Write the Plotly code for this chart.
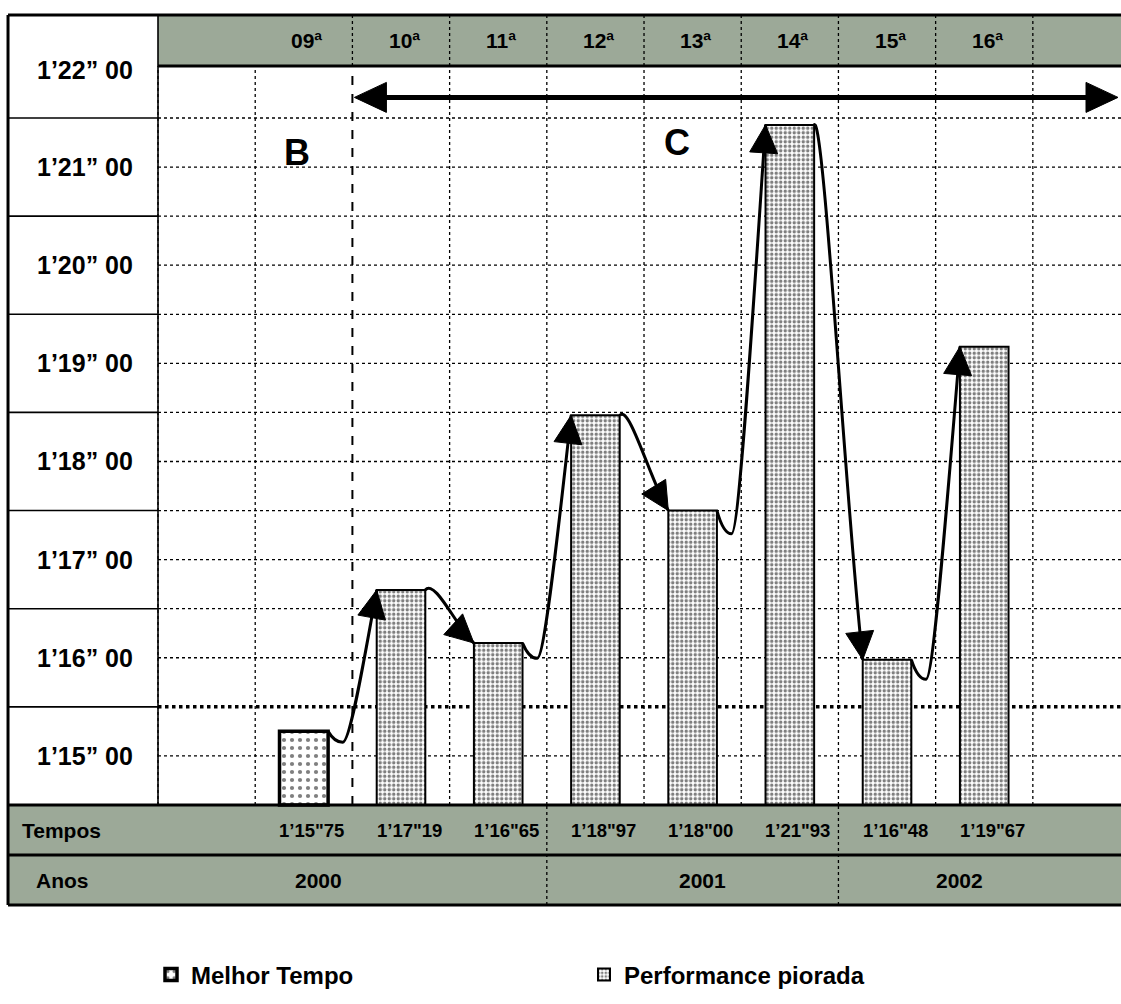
import math
import plotly.graph_objects as go

# ---------------- data ----------------
ROUNDS = ["09ª", "10ª", "11ª", "12ª", "13ª", "14ª", "15ª", "16ª"]
TEMPOS_LABELS = ['1’15"75', '1’17"19', '1’16"65', '1’18"97',
                 '1’18"00', '1’21"93', '1’16"48', '1’19"67']
TEMPOS_SEC = [75.75, 77.19, 76.65, 78.97, 78.00, 81.93, 76.48, 79.67]
YEARS = ["2000", "2001", "2002"]
YEAR_SPLITS = [2.5, 5.5]            # column boundaries between years
Y_SECONDS = [75, 76, 77, 78, 79, 80, 81, 82]
Y_LABELS = ["1’15” 00", "1’16” 00", "1’17” 00", "1’18” 00",
            "1’19” 00", "1’20” 00", "1’21” 00", "1’22” 00"]
REF_LEVEL = 76.0
LEGEND_NAMES = ["Melhor Tempo", "Performance piorada"]
PHASE_LETTERS = ["B", "C"]

# ---------------- layout geometry (data units) ----------------
W, H = 1121, 1004
X_RANGE = [-3.1255, 8.407]
Y_RANGE = [72.972, 83.2025]
X_FRAME = -3.043
X_COLEDGE = -1.5
X_END = 8.8
Y_TOP = 83.05
Y_HEAD = 82.53
Y_BASE = 75.0
Y_ROW1 = 74.49
Y_ROW2 = 73.98
HALF = 0.25
GREY = "#9ca998"
FONT = "Liberation Sans, Arial, sans-serif"
YEAR_LABEL_X = [0.15, 4.1, 6.75]
PHASE_POS = [(-0.07, 81.65), (3.84, 81.75)]
ARROW_Y = 82.21

XS = W / (X_RANGE[1] - X_RANGE[0])
YS = H / (Y_RANGE[1] - Y_RANGE[0])

shapes = []
annotations = []


def seg(x0, y0, x1, y1, width=1.0, dash="solid", layer="below", color="black"):
    shapes.append(dict(type="line", xref="x", yref="y", x0=x0, y0=y0, x1=x1, y1=y1,
                       line=dict(color=color, width=width, dash=dash), layer=layer))


def rect(x0, y0, x1, y1, fill, layer="below"):
    shapes.append(dict(type="rect", xref="x", yref="y", x0=x0, y0=y0, x1=x1, y1=y1,
                       fillcolor=fill, line=dict(width=0), layer=layer))


def text(x, y, s, size, xanchor="center", xshift=0, yshift=0):
    annotations.append(dict(x=x, y=y, xref="x", yref="y", text=s, showarrow=False,
                            xanchor=xanchor, yanchor="middle", xshift=xshift, yshift=yshift,
                            font=dict(family=FONT, size=size, color="black", weight="bold")))


def head(tip, frm, L=28, Wd=14):
    """filled triangle arrowhead at tip, pointing away from frm (sizes in px)"""
    dx = (tip[0] - frm[0]) * XS
    dy = (tip[1] - frm[1]) * YS
    n = math.hypot(dx, dy)
    ux, uy = dx / n, dy / n
    bx, by = -ux * L, -uy * L
    px, py = -uy * Wd, ux * Wd
    p1 = (tip[0] + (bx + px) / XS, tip[1] + (by + py) / YS)
    p2 = (tip[0] + (bx - px) / XS, tip[1] + (by - py) / YS)
    shapes.append(dict(type="path", xref="x", yref="y",
                       path=f"M{tip[0]},{tip[1]} L{p1[0]},{p1[1]} L{p2[0]},{p2[1]} Z",
                       fillcolor="black", line=dict(color="black", width=1), layer="above"))


n = len(ROUNDS)
cols = list(range(n))

# grey bands
rect(X_COLEDGE, Y_HEAD, X_END, Y_TOP, GREY)
rect(X_FRAME, Y_ROW1, X_END, Y_BASE, GREY)
rect(X_FRAME, Y_ROW2, X_END, Y_ROW1, GREY)

# horizontal dotted grid (half seconds)
lo, hi = Y_SECONDS[0], Y_SECONDS[-1]
k = 1
while lo + 0.5 * k <= hi:
    yv = lo + 0.5 * k
    if yv == REF_LEVEL:
        seg(X_COLEDGE, yv, X_END, yv, width=3.5, dash="dot")
    else:
        seg(X_COLEDGE, yv, X_END, yv, width=1.3, dash="dot")
    k += 1

# vertical grid lines
for c in range(-1, n + 2):
    xv = c - 0.5
    if xv == 0.5:
        seg(xv, Y_BASE, xv, Y_HEAD, width=2, dash="dash")
    else:
        seg(xv, Y_BASE, xv, Y_HEAD, width=1.3, dash="dot")
    if 0 <= c <= n and xv > 0:
        seg(xv, Y_HEAD, xv, Y_TOP, width=1.3, dash="dot")

# left label column lines
for s in Y_SECONDS[1:]:
    seg(X_FRAME, s, X_COLEDGE, s, width=1.6)
seg(X_COLEDGE, Y_BASE, X_COLEDGE, Y_TOP, width=1.6)

# year separators in bottom rows
for xv in YEAR_SPLITS:
    seg(xv, Y_ROW2, xv, Y_BASE, width=1.3, dash="dot")

# heavy frame lines
seg(X_FRAME, Y_TOP, X_END, Y_TOP, width=3, layer="above")
seg(X_COLEDGE, Y_HEAD, X_END, Y_HEAD, width=3, layer="above")
seg(X_FRAME, Y_BASE, X_END, Y_BASE, width=3, layer="above")
seg(X_FRAME, Y_ROW1, X_END, Y_ROW1, width=3, layer="above")
seg(X_FRAME, Y_ROW2, X_END, Y_ROW2, width=3, layer="above")
seg(X_FRAME, Y_ROW2, X_FRAME, Y_TOP, width=3, layer="above")

# y labels
for s, lab in zip(Y_SECONDS, Y_LABELS):
    yc = s + 0.5 if s != Y_SECONDS[-1] else (s + Y_TOP) / 2
    ys = 0 if s != Y_SECONDS[-1] else -4
    text((X_FRAME + X_COLEDGE) / 2, yc, lab, 25, yshift=ys, xshift=2)

# header labels
for c, lab in zip(cols, ROUNDS):
    text(c, (Y_HEAD + Y_TOP) / 2, lab, 21, xshift=3)

# Tempos row
text(X_FRAME, (Y_BASE + Y_ROW1) / 2, "Tempos", 21, xanchor="left", xshift=12)
for c, lab in zip(cols, TEMPOS_LABELS):
    text(c, (Y_BASE + Y_ROW1) / 2, lab, 18.5, xshift=8)

# Anos row
text(X_FRAME, (Y_ROW1 + Y_ROW2) / 2, "Anos", 21, xanchor="left", xshift=26)
for xv, lab in zip(YEAR_LABEL_X, YEARS):
    text(xv, (Y_ROW1 + Y_ROW2) / 2, lab, 21)

# phase letters
for (xv, yv), lab in zip(PHASE_POS, PHASE_LETTERS):
    text(xv, yv, lab, 36)

# double headed arrow (phase C)
a_l = (0.5 + 2 / XS, ARROW_Y)
a_r = (X_RANGE[1] - 3 / XS, ARROW_Y)
seg(a_l[0] + 20 / XS, ARROW_Y, a_r[0] - 20 / XS, ARROW_Y, width=5, layer="above")
head(a_l, (a_l[0] + 1, ARROW_Y), L=32, Wd=15)
head(a_r, (a_r[0] - 1, ARROW_Y), L=32, Wd=15)

# connecting curves between bars
for i in range(n - 1):
    a, b = TEMPOS_SEC[i], TEMPOS_SEC[i + 1]
    S = (i + HALF, a)
    T = (i + 1 - HALF, b)
    if b > a:
        dip = 0.04 + 0.05 * (b - a)
        D = (S[0] + 0.15, a - dip)
        c2 = (T[0] - 0.12, b - 0.45 * (b - a))
        path = (f"M{S[0]},{S[1]} C{S[0] + 0.04},{a - 0.6 * dip} {D[0] - 0.06},{D[1]} {D[0]},{D[1]} "
                f"C{D[0] + 0.08},{D[1]} {c2[0]},{c2[1]} {T[0]},{T[1]}")
    else:
        c1 = (S[0] + 0.1, a + 0.12)
        c2 = (T[0] - 0.18, b + 0.3 * (a - b))
        path = f"M{S[0]},{S[1]} C{c1[0]},{c1[1]} {c2[0]},{c2[1]} {T[0]},{T[1]}"
    shapes.append(dict(type="path", xref="x", yref="y", path=path,
                       line=dict(color="black", width=3), layer="above"))
    head(T, c2)

# ---------------- bars ----------------
best = TEMPOS_SEC.index(min(TEMPOS_SEC))
others = [i for i in cols if i != best]

fig = go.Figure()
fig.add_trace(go.Bar(
    name=LEGEND_NAMES[0], x=[best], y=[TEMPOS_SEC[best] - Y_BASE], base=[Y_BASE],
    width=2 * HALF,
    marker=dict(color="white", line=dict(color="black", width=3.5),
                pattern=dict(shape=".", fgcolor="black", bgcolor="white",
                             size=8, solidity=0.22, fillmode="overlay")),
    hovertext=[TEMPOS_LABELS[best]], hoverinfo="text"))
fig.add_trace(go.Bar(
    name=LEGEND_NAMES[1], x=others, y=[TEMPOS_SEC[i] - Y_BASE for i in others],
    base=[Y_BASE] * len(others), width=2 * HALF,
    marker=dict(color="white", line=dict(color="black", width=2),
                pattern=dict(shape=".", fgcolor="black", bgcolor="white",
                             size=4.5, solidity=0.45, fillmode="overlay")),
    hovertext=[TEMPOS_LABELS[i] for i in others], hoverinfo="text"))

fig.update_layout(
    width=W, height=H, margin=dict(l=0, r=0, t=0, b=0),
    paper_bgcolor="white", plot_bgcolor="white",
    barmode="overlay",
    xaxis=dict(range=X_RANGE, visible=False, fixedrange=True),
    yaxis=dict(range=Y_RANGE, visible=False, fixedrange=True),
    shapes=shapes, annotations=annotations,
    showlegend=True,
    legend=dict(orientation="h", x=151 / W, xanchor="left", y=1 - 975 / H, yanchor="middle",
                font=dict(family=FONT, size=24, color="black", weight="bold"),
                entrywidth=388, entrywidthmode="pixels", bgcolor="rgba(0,0,0,0)",
                traceorder="normal"),
)

fig.write_html("out.html", config={"displayModeBar": False},
               post_script="document.body.style.margin='0px';document.body.style.overflow='hidden';")
